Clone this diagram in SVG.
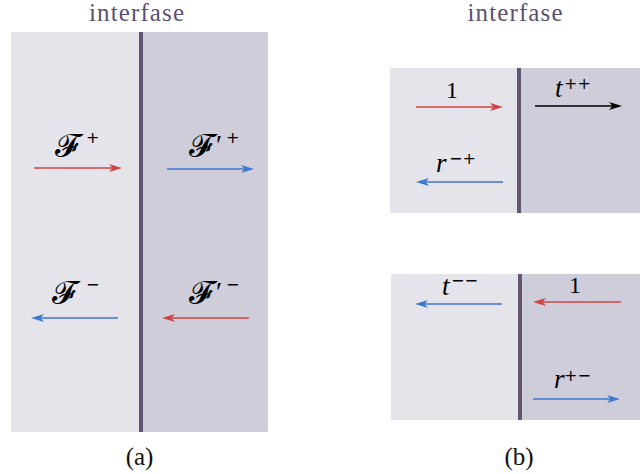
<svg xmlns="http://www.w3.org/2000/svg" width="640" height="474" viewBox="0 0 640 474">
<style>
.l{fill:#e5e4eb}
.r{fill:#cecdd9}
.div{stroke:#5f5672;stroke-width:4}
.hdr{font-family:"Liberation Serif",serif;font-size:25px;fill:#5a5070;text-anchor:middle}
.cap{font-family:"Liberation Serif",serif;font-size:25px;fill:#111;text-anchor:middle}
.F{font-family:"DejaVu Sans",sans-serif;font-size:32px;fill:#000}
.m{font-family:"Liberation Serif",serif;font-size:27px;font-style:italic;fill:#000}
.n{font-family:"Liberation Serif",serif;font-size:24px;fill:#000}
.s{font-family:"DejaVu Sans",sans-serif;font-size:16px;fill:#000}
.p{font-family:"Liberation Serif",serif;font-size:28px;fill:#000}
.red{stroke:#cf4444;stroke-width:1.6;fill:none}
.blue{stroke:#3d78cf;stroke-width:1.6;fill:none}
.blk{stroke:#000;stroke-width:1.6;fill:none}
</style>
<defs>
<marker id="ar" viewBox="0 -5 13 10" refX="6" refY="0" markerWidth="13" markerHeight="10" markerUnits="userSpaceOnUse" orient="auto"><path d="M0,-4 L13,0 L0,4 L3.5,0 Z" fill="#cf4444"/></marker>
<marker id="ab" viewBox="0 -5 13 10" refX="6" refY="0" markerWidth="13" markerHeight="10" markerUnits="userSpaceOnUse" orient="auto"><path d="M0,-4 L13,0 L0,4 L3.5,0 Z" fill="#3d78cf"/></marker>
<marker id="ak" viewBox="0 -5 13 10" refX="6" refY="0" markerWidth="13" markerHeight="10" markerUnits="userSpaceOnUse" orient="auto"><path d="M0,-4 L13,0 L0,4 L3.5,0 Z" fill="#000"/></marker>
</defs>

<g id="panel-a">
<rect class="l" x="11" y="32" width="130" height="400"/>
<rect class="r" x="141" y="32" width="127" height="400"/>
<line class="div" x1="141" y1="32" x2="141" y2="432"/>
<text class="hdr" x="136.5" y="21" textLength="95">interfase</text>
<text class="cap" x="139.5" y="465">(a)</text>
</g>

<g id="panel-b-top">
<rect class="l" x="390" y="68" width="129" height="145"/>
<rect class="r" x="519" y="68" width="121" height="145"/>
<line class="div" x1="519" y1="68" x2="519" y2="213"/>
<text class="hdr" x="515" y="21" textLength="95">interfase</text>
</g>

<g id="panel-b-bottom">
<rect class="l" x="391" y="274" width="129" height="146"/>
<rect class="r" x="520" y="274" width="120" height="146"/>
<line class="div" x1="520" y1="274" x2="520" y2="420"/>
<text class="cap" x="519" y="465">(b)</text>
</g>

<g id="labels">
<text class="F" x="55" y="156">𝓕</text><text class="s" x="86" y="143">+</text>
<text class="F" x="189" y="156">𝓕</text><text class="p" x="216" y="154">′</text><text class="s" x="226" y="143">+</text>
<text class="F" x="52" y="303">𝓕</text><text class="s" x="86" y="290">−</text>
<text class="F" x="189" y="303">𝓕</text><text class="p" x="216" y="301">′</text><text class="s" x="226" y="290">−</text>
<text class="n" x="446" y="98">1</text>
<text class="m" x="555" y="97">t</text><text class="s" x="564" y="89">++</text>
<text class="m" x="436" y="172">r</text><text class="s" x="449" y="164">−+</text>
<text class="m" x="442" y="295">t</text><text class="s" x="451" y="286">−−</text>
<text class="n" x="569" y="293">1</text>
<text class="m" x="554" y="388">r</text><text class="s" x="564" y="381">+−</text>
</g>

<g id="connectors">
<line class="red" x1="34" y1="168" x2="115" y2="168" marker-end="url(#ar)"/>
<line class="blue" x1="167" y1="169" x2="247" y2="169" marker-end="url(#ab)"/>
<line class="blue" x1="118" y1="318" x2="38" y2="318" marker-end="url(#ab)"/>
<line class="red" x1="249" y1="318" x2="169" y2="318" marker-end="url(#ar)"/>
<line class="red" x1="416" y1="107" x2="496" y2="107" marker-end="url(#ar)"/>
<line class="blk" x1="535" y1="106" x2="615" y2="106" marker-end="url(#ak)"/>
<line class="blue" x1="503" y1="182" x2="423" y2="182" marker-end="url(#ab)"/>
<line class="blue" x1="502" y1="304" x2="422" y2="304" marker-end="url(#ab)"/>
<line class="red" x1="621" y1="302" x2="540" y2="302" marker-end="url(#ar)"/>
<line class="blue" x1="533" y1="399" x2="613" y2="399" marker-end="url(#ab)"/>
</g>
</svg>
